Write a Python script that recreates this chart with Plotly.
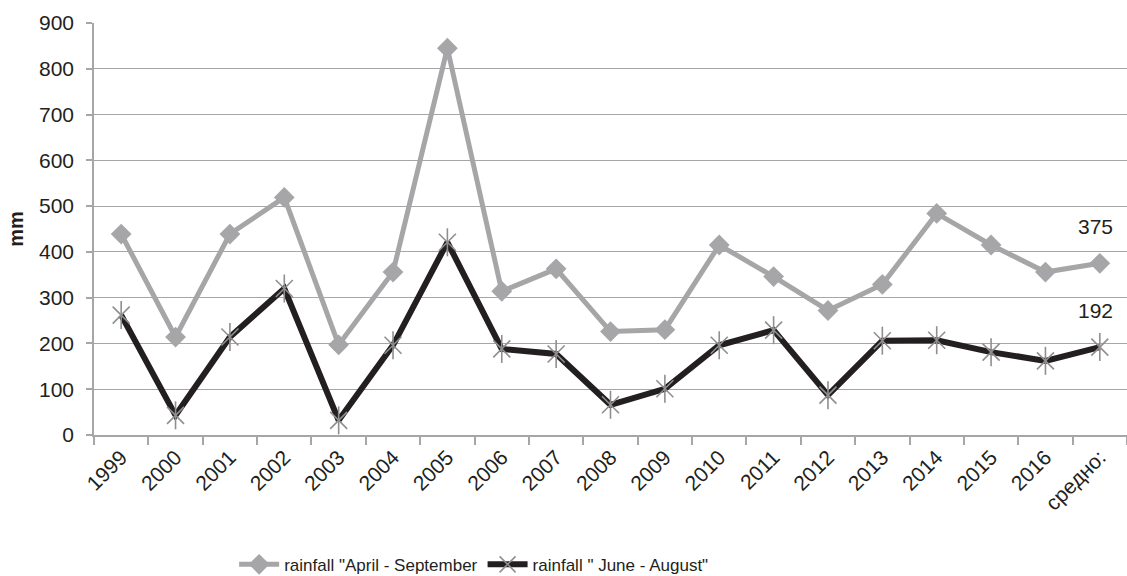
import plotly.graph_objects as go

categories = ["1999", "2000", "2001", "2002", "2003", "2004", "2005", "2006", "2007",
              "2008", "2009", "2010", "2011", "2012", "2013", "2014", "2015", "2016", "средно:"]
rain_apr_sep = [439, 214, 439, 519, 197, 356, 845, 314, 363, 226, 230, 415, 346, 272, 329, 484, 415, 356, 375]
rain_jun_aug = [262, 43, 214, 320, 32, 196, 421, 188, 177, 66, 101, 196, 229, 87, 206, 207, 181, 162, 192]

GRAY = "#a6a6a8"
DARK = "#231f20"
STAR = "#8f8f92"
FONT = "Liberation Sans, Arial, sans-serif"

fig = go.Figure()
fig.add_trace(go.Scatter(
    x=categories, y=rain_apr_sep, mode="lines+markers",
    name='rainfall "April - September',
    line=dict(color=GRAY, width=5),
    marker=dict(symbol="diamond", size=16, color=GRAY),
))
fig.add_trace(go.Scatter(
    x=categories, y=rain_jun_aug, mode="lines+markers",
    name='rainfall " June - August"',
    line=dict(color=DARK, width=6),
    marker=dict(symbol="x-thin-open", size=17, color=STAR,
                line=dict(color=STAR, width=1.6)),
))
# vertical stroke completing the star marker
fig.add_trace(go.Scatter(
    x=categories, y=rain_jun_aug, mode="markers", showlegend=False, hoverinfo="skip",
    marker=dict(symbol="line-ns-open", size=20, color=STAR,
                line=dict(color=STAR, width=1.6)),
))

# value labels on the average point of each series
for series in (rain_apr_sep, rain_jun_aug):
    fig.add_annotation(x=categories[-1], y=series[-1], text=str(series[-1]),
                       showarrow=False, yshift=37, xshift=-4,
                       font=dict(family=FONT, size=21, color="#231f20"))

fig.update_layout(
    width=1127, height=576,
    margin=dict(l=94, r=0, t=23, b=141, autoexpand=False),
    paper_bgcolor="white", plot_bgcolor="white",
    font=dict(family=FONT, size=21, color="#231f20"),
    showlegend=True,
    legend=dict(orientation="h", x=0.368, xanchor="center", y=-0.315, yanchor="middle",
                font=dict(family=FONT, size=17),
                itemwidth=40, tracegroupgap=0),
)
fig.update_xaxes(
    type="category", range=[-0.5, len(categories) - 0.5], automargin=False,
    showline=True, linecolor=GRAY, linewidth=1.5,
    ticks="outside", tickson="boundaries", ticklen=8, tickcolor=GRAY, tickwidth=1.5,
    tickangle=-45, showgrid=False, tickfont=dict(size=21),
)
fig.update_yaxes(
    range=[0, 900], dtick=100, automargin=False,
    showline=True, linecolor=GRAY, linewidth=1.5,
    ticks="outside", ticklen=6, tickcolor=GRAY, tickwidth=1.5,
    gridcolor=GRAY, gridwidth=1.2, zeroline=False,
    tickfont=dict(size=21), ticklabelstandoff=8,
    title=dict(text="<b>mm</b>", font=dict(size=20), standoff=10),
)

fig.write_html("out.html")
